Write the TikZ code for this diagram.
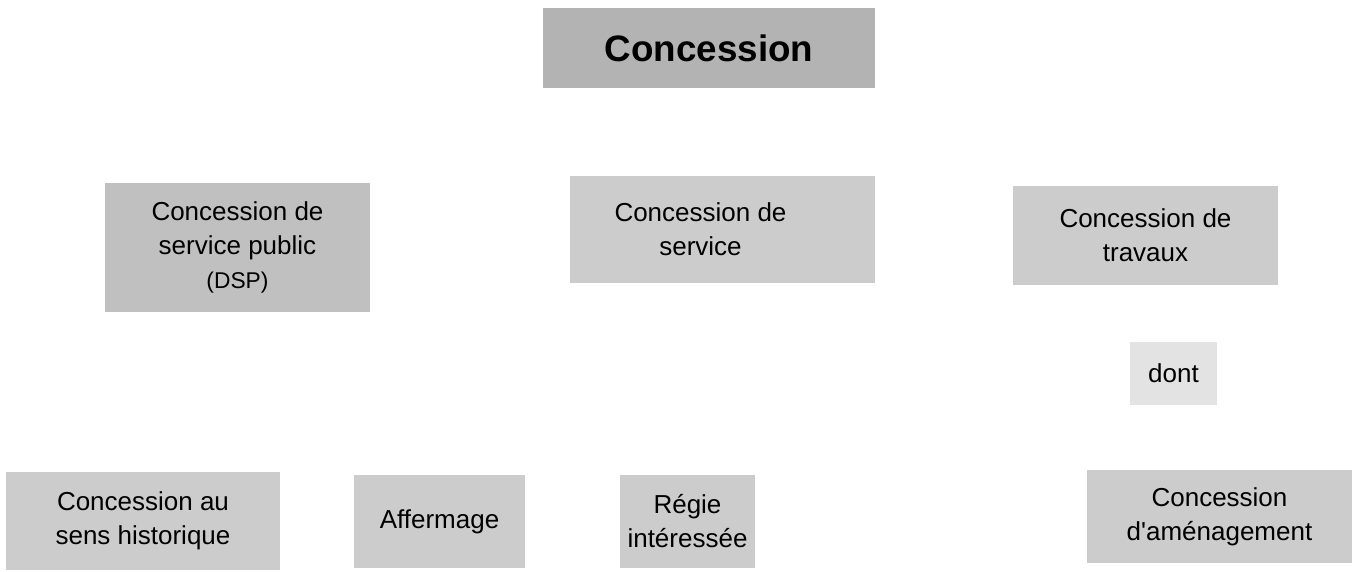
\documentclass[tikz,border=0pt]{standalone}
\usepackage{fontspec}
\setmainfont{Liberation Sans}
\usetikzlibrary{positioning}
\usepackage{xcolor}
\definecolor{titlegray}{HTML}{B3B3B3}
\definecolor{dspgray}{HTML}{C0C0C0}
\definecolor{boxgray}{HTML}{CCCCCC}
\definecolor{dontgray}{HTML}{E3E3E3}

\begin{document}
\begin{tikzpicture}[
    x=0.5pt, y=-0.5pt,
    kind/.style={rectangle, fill=boxgray, inner sep=0pt, align=center, font=\fontsize{13}{17}\selectfont},
    title/.style={kind, fill=titlegray, font=\fontsize{18.4}{22}\selectfont\bfseries},
    link/.style={kind, fill=dontgray}
]
\useasboundingbox (0,0) rectangle (1357,572);

% Top
\node[title, minimum width=166pt, minimum height=40pt] (concession) at (709,48) {Concession};

% Middle row
\node[kind, fill=dspgray, minimum width=132.5pt, minimum height=64.5pt] (dsp) at (237.5,247.5)
    {Concession de\\service public\\{\fontsize{11.4}{15}\selectfont (DSP)}};
\node[kind, minimum width=152.5pt, minimum height=53.5pt] (service) at (722.5,229.5) {};
\node[kind, fill=none] (servicetext) at ([xshift=-11pt]service.center) {Concession de\\service};
\node[kind, minimum width=132.5pt, minimum height=49.5pt] (travaux) at (1145.5,235.5) {Concession de\\travaux};

\node[link, minimum width=43.5pt, minimum height=31.5pt] (dont) at (1173.5,373.5) {dont};

% Bottom row
\node[kind, minimum width=137pt, minimum height=49pt] (historique) at (143,521) {Concession au\\sens historique};
\node[kind, minimum width=85.5pt, minimum height=46.5pt] (affermage) at (439.5,521.5) {Affermage};
\node[kind, minimum width=67.5pt, minimum height=46.5pt] (regie) at (687.5,521.5) {Régie\\intéressée};
\node[kind, minimum width=132.5pt, minimum height=46.5pt] (amenagement) at (1219.5,516.5) {Concession\\d\textquotesingle aménagement};

\end{tikzpicture}
\end{document}
